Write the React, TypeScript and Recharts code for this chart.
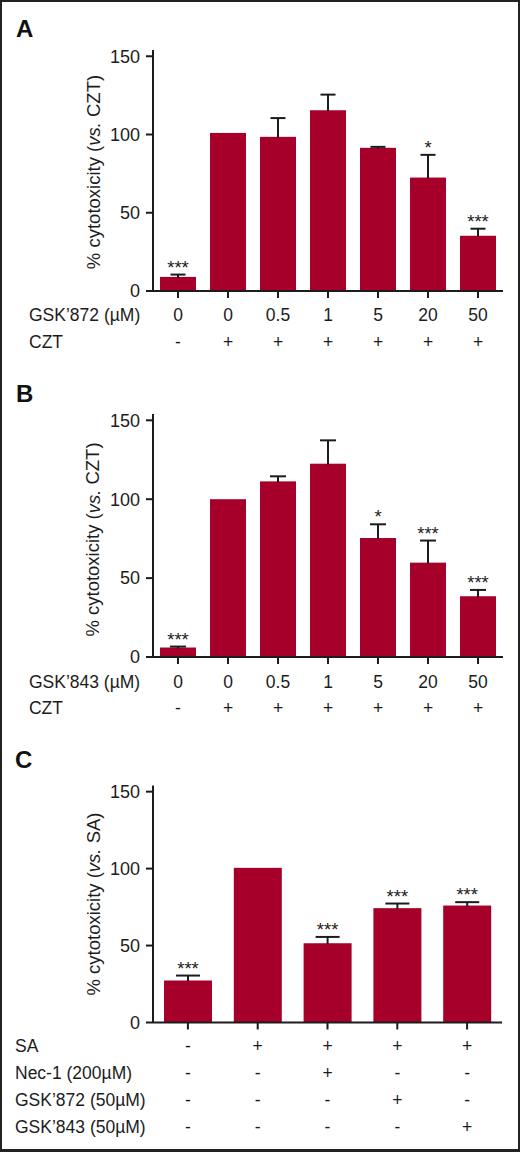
import React from 'react';
import { BarChart, Bar, XAxis, YAxis } from 'recharts';

const FONT = '"Liberation Sans", Arial, Helvetica, sans-serif';
const BAR = '#A6002A';
const INK = '#1c1c1c';

// ---------- Panel A ----------
const aDose = ['0', '0', '0.5', '1', '5', '20', '50'];
const aCzt = ['-', '+', '+', '+', '+', '+', '+'];
const aValues = [9, 101, 98.5, 115.5, 91.5, 72.5, 35.3];
const aErrors = [1.5, 0, 12, 10, 0.6, 14.5, 4.5];
const aStars = ['***', '', '', '', '', '*', '***'];
const aRowTitles = ['GSK\u2019872 (\u00b5M)', 'CZT'];

// ---------- Panel B ----------
const bDose = ['0', '0', '0.5', '1', '5', '20', '50'];
const bCzt = ['-', '+', '+', '+', '+', '+', '+'];
const bValues = [6, 100, 111.3, 122.5, 75.4, 59.8, 38.5];
const bErrors = [0.6, 0, 3.2, 14.8, 8.7, 14, 4];
const bStars = ['***', '', '', '', '*', '***', '***'];
const bRowTitles = ['GSK\u2019843 (\u00b5M)', 'CZT'];

// ---------- Panel C ----------
const cSA = ['-', '+', '+', '+', '+'];
const cNec = ['-', '-', '+', '-', '-'];
const c872 = ['-', '-', '-', '+', '-'];
const c843 = ['-', '-', '-', '-', '+'];
const cValues = [27.3, 100.5, 51.5, 74.3, 76];
const cErrors = [3.2, 0, 4.1, 3, 2.2];
const cStars = ['***', '', '***', '***', '***'];
const cRowTitles = ['SA', 'Nec-1 (200\u00b5M)', 'GSK\u2019872 (50\u00b5M)', 'GSK\u2019843 (50\u00b5M)'];

const yTicks = [0, 50, 100, 150];

type PanelProps = {
  top: number;
  marginTop: number;
  plotH: number;
  marginRight: number;
  values: number[];
  errors: number[];
  stars: string[];
  rows: string[][];
  rowTitles: string[];
  rowOffsets: number[];
  titleX: number;
  barSize: number;
  capW: number;
  refName: string;
  yLabelShift: number;
};

function Panel(p: PanelProps) {
  const data = p.values.map((v, i) => ({ idx: i, value: v, err: p.errors[i], stars: p.stars[i] }));
  const xAxisH = p.rowOffsets[p.rowOffsets.length - 1] + 20;
  const height = p.marginTop + p.plotH + xAxisH;

  const shape = (props: any) => {
    const { x, y, width, height: h, payload } = props;
    const ppu = h / payload.value;
    const cx = x + width / 2;
    const ey = y - payload.err * ppu;
    return (
      <g>
        <rect x={x} y={y} width={width} height={h} fill={BAR} />
        {payload.err > 0 && (
          <g>
            <line x1={cx} x2={cx} y1={y + 1} y2={ey} stroke={INK} strokeWidth={2} />
            <line x1={cx - p.capW / 2} x2={cx + p.capW / 2} y1={ey} y2={ey} stroke={INK} strokeWidth={2} />
          </g>
        )}
        {payload.stars && (
          <text x={cx} y={ey - 1} textAnchor="middle" fontFamily={FONT} fontSize={18.5} fill={INK}>
            {payload.stars}
          </text>
        )}
      </g>
    );
  };

  const tick = (props: any) => {
    const { x, y, payload } = props;
    const axisY = y - 7;
    const i = payload.index;
    return (
      <g>
        {p.rows.map((row, r) => (
          <text
            key={r}
            x={x}
            y={axisY + p.rowOffsets[r]}
            textAnchor="middle"
            dominantBaseline="central"
            fontFamily={FONT}
            fontSize={17.5}
            fill={INK}
          >
            {row[i]}
          </text>
        ))}
      </g>
    );
  };

  const xLabel = (props: any) => {
    const vb = props.viewBox || {};
    const axisY = vb.y;
    return (
      <g>
        {p.rowTitles.map((t, r) => (
          <text
            key={r}
            x={p.titleX}
            y={axisY + p.rowOffsets[r]}
            textAnchor="start"
            dominantBaseline="central"
            fontFamily={FONT}
            fontSize={17.5}
            fill={INK}
          >
            {t}
          </text>
        ))}
      </g>
    );
  };

  const yLabel = () => {
    const cy = p.marginTop + p.plotH / 2 + p.yLabelShift;
    return (
      <text
        x={93}
        y={cy}
        transform={`rotate(-90 93 ${cy})`}
        textAnchor="middle"
        dominantBaseline="central"
        fontFamily={FONT}
        fontSize={18.5}
        fill={INK}
      >
        % cytotoxicity (<tspan fontStyle="italic">vs.</tspan> {p.refName})
      </text>
    );
  };

  return (
    <div style={{ position: 'absolute', left: 0, top: p.top }}>
      <BarChart
        width={520}
        height={height}
        data={data}
        margin={{ top: p.marginTop, right: p.marginRight, left: 0, bottom: 0 }}
      >
        <XAxis
          dataKey="idx"
          type="category"
          height={xAxisH}
          axisLine={{ stroke: INK, strokeWidth: 2 }}
          tickLine={{ stroke: INK, strokeWidth: 2 }}
          tickSize={7}
          tickMargin={0}
          tick={tick}
          interval={0}
          label={{ content: xLabel }}
        />
        <YAxis
          type="number"
          domain={[0, 154]}
          ticks={yTicks}
          width={153}
          axisLine={{ stroke: INK, strokeWidth: 2 }}
          tickLine={{ stroke: INK, strokeWidth: 2 }}
          tickSize={7}
          tickMargin={6}
          tick={{ fontFamily: FONT, fontSize: 18, fill: INK }}
          label={{ content: yLabel }}
        />
        <Bar dataKey="value" barSize={p.barSize} shape={shape} isAnimationActive={false} />
      </BarChart>
    </div>
  );
}

export default function App() {
  return (
    <div style={{ position: 'absolute', left: 0, top: 0, width: 520, height: 1152, background: '#fff', overflow: 'hidden' }}>
      <Panel
        top={0}
        marginTop={50}
        plotH={241}
        marginRight={17}
        values={aValues}
        errors={aErrors}
        stars={aStars}
        rows={[aDose, aCzt]}
        rowTitles={aRowTitles}
        rowOffsets={[24, 51]}
        titleX={29}
        barSize={36}
        capW={15}
        refName="CZT"
        yLabelShift={1.5}
      />
      <Panel
        top={380}
        marginTop={34}
        plotH={243}
        marginRight={17}
        values={bValues}
        errors={bErrors}
        stars={bStars}
        rows={[bDose, bCzt]}
        rowTitles={bRowTitles}
        rowOffsets={[25, 51.3]}
        titleX={29}
        barSize={36}
        capW={16}
        refName="CZT"
        yLabelShift={4}
      />
      <Panel
        top={760}
        marginTop={25.5}
        plotH={237}
        marginRight={18}
        values={cValues}
        errors={cErrors}
        stars={cStars}
        rows={[cSA, cNec, c872, c843]}
        rowTitles={cRowTitles}
        rowOffsets={[23.3, 50, 77.3, 104]}
        titleX={15}
        barSize={48}
        capW={24}
        refName="SA"
        yLabelShift={0}
      />
      <svg width={520} height={1152} style={{ position: 'absolute', left: 0, top: 0, pointerEvents: 'none' }}>
        <text x={16} y={37} fontFamily={FONT} fontSize={24} fontWeight="bold" fill="#111">A</text>
        <text x={16} y={401.5} fontFamily={FONT} fontSize={24} fontWeight="bold" fill="#111">B</text>
        <text x={15} y={767.5} fontFamily={FONT} fontSize={24} fontWeight="bold" fill="#111">C</text>
      </svg>
      <div
        style={{
          position: 'absolute',
          left: 0,
          top: 0,
          width: 520,
          height: 1152,
          boxSizing: 'border-box',
          border: '2px solid #222',
          borderBottomWidth: 3,
          pointerEvents: 'none',
        }}
      />
    </div>
  );
}
